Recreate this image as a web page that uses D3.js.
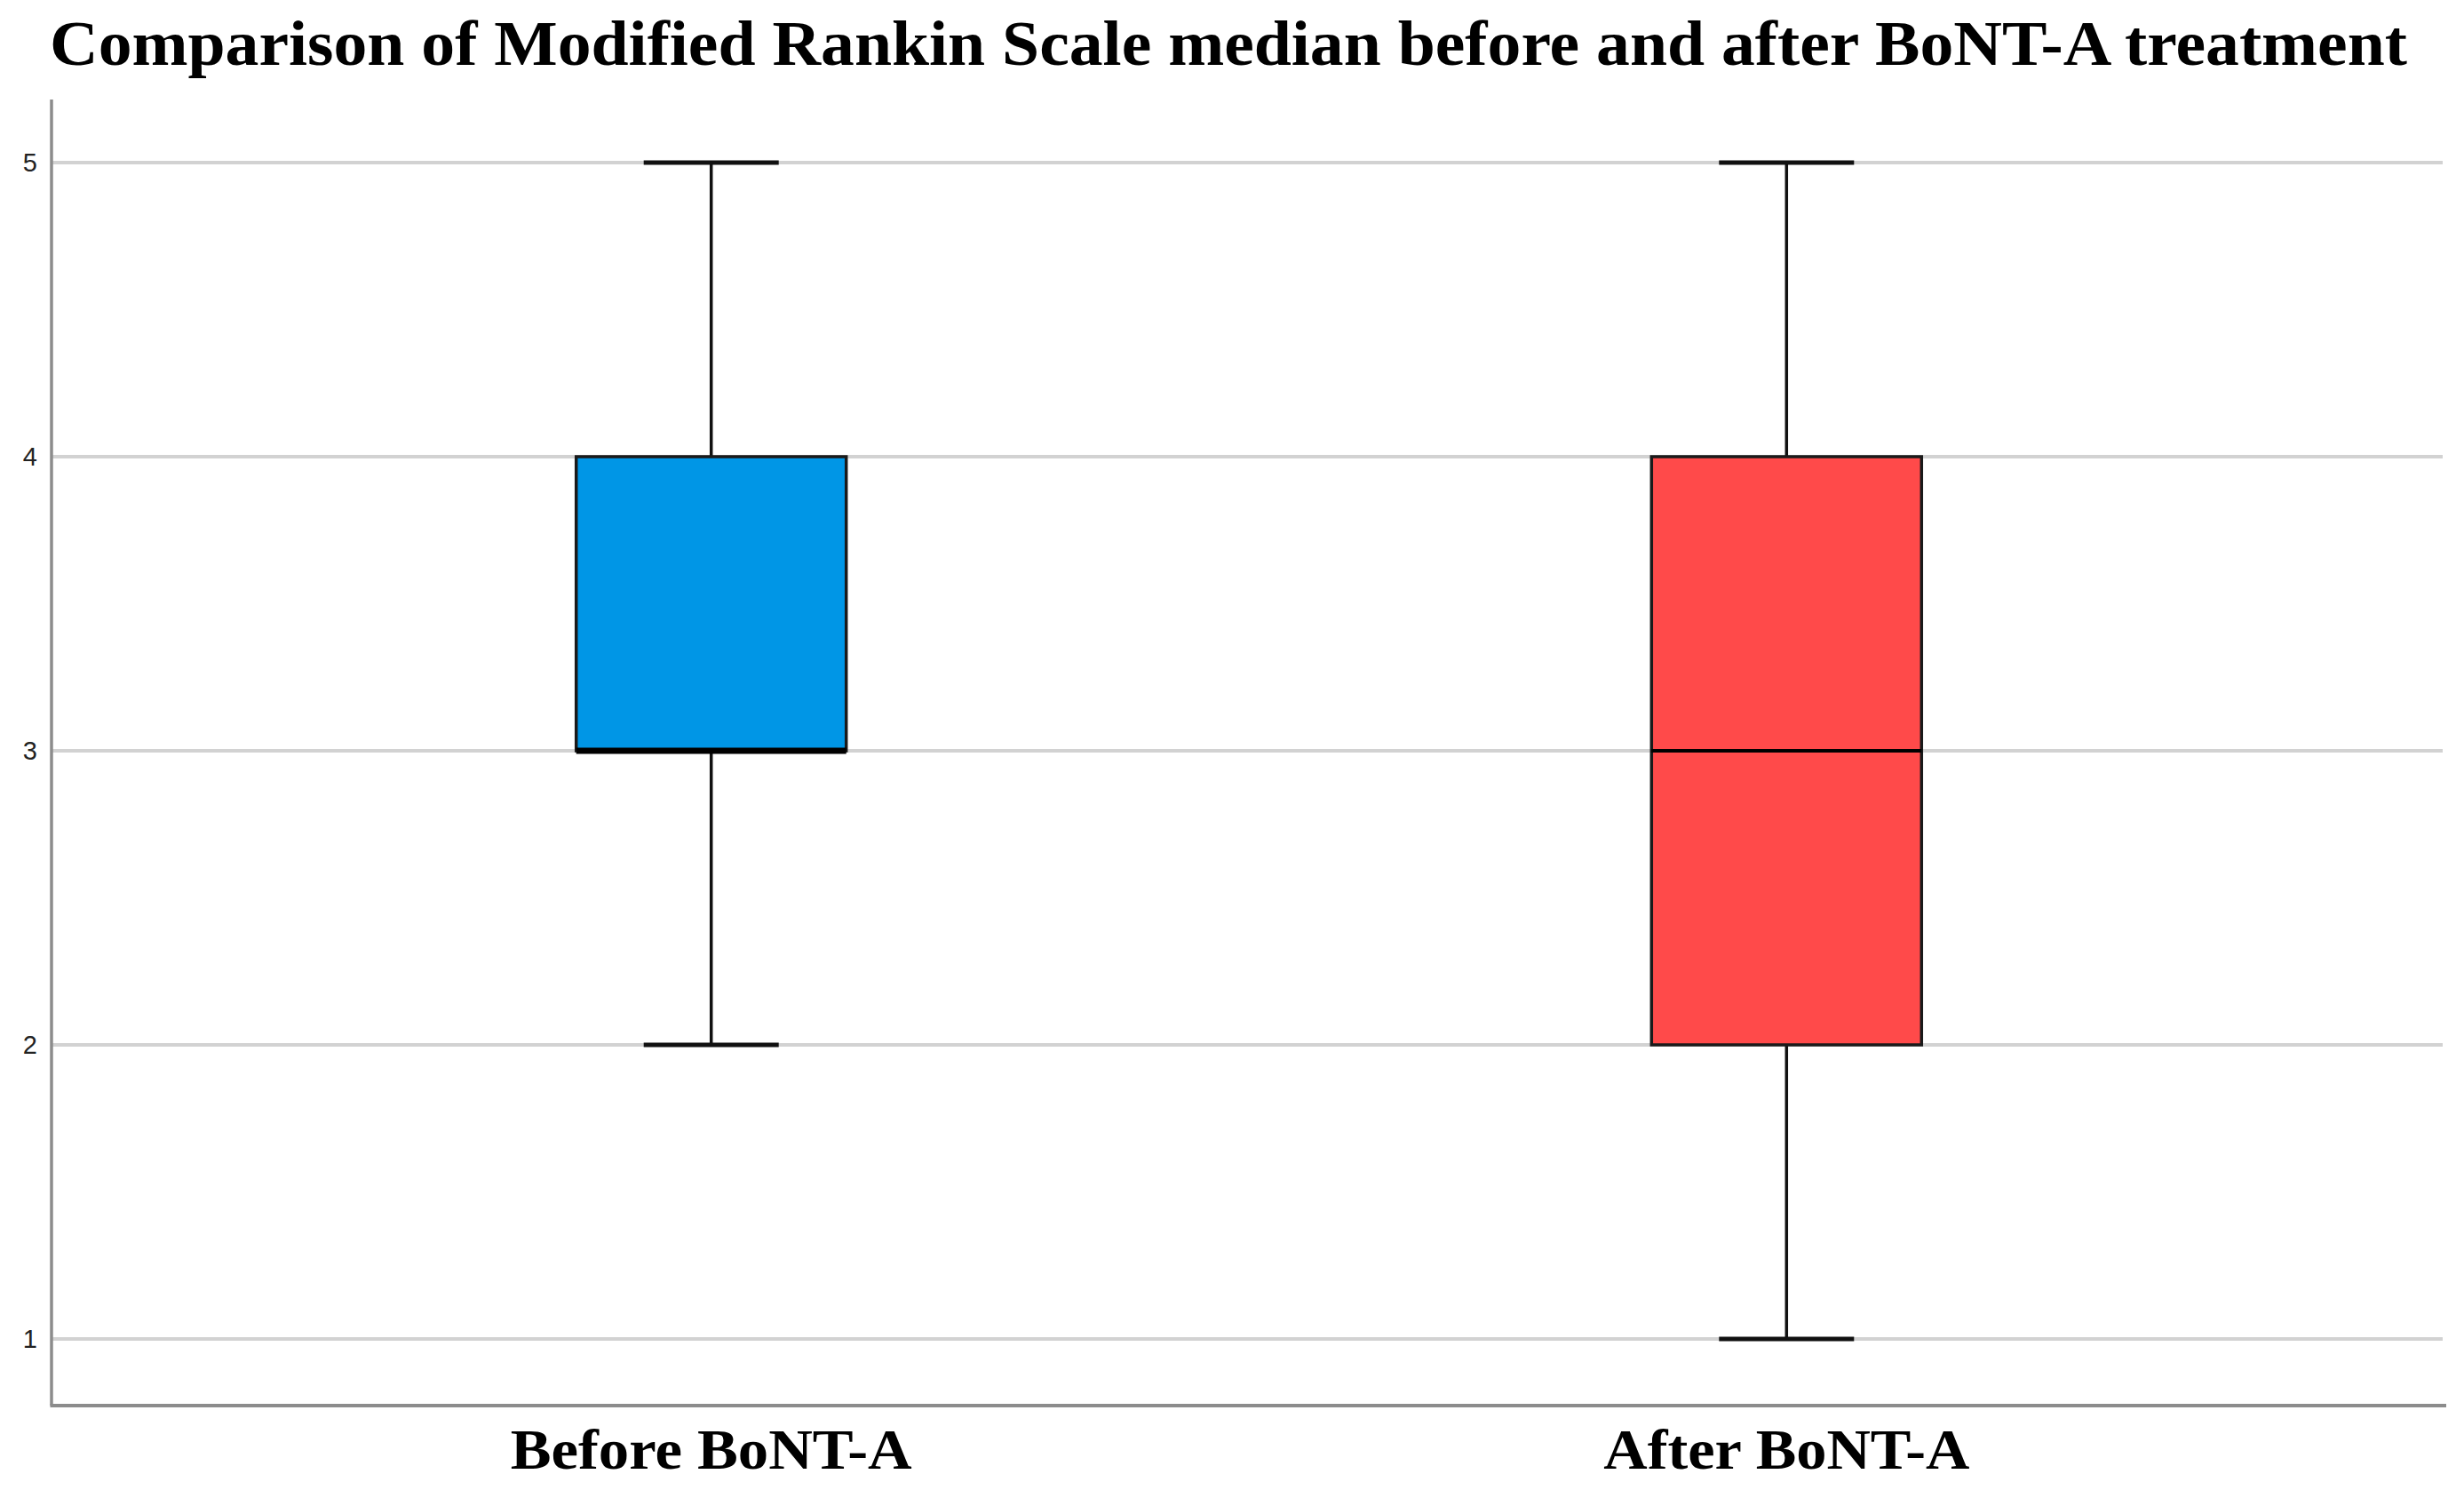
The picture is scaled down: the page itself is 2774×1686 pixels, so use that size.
<!DOCTYPE html>
<html>
<head>
<meta charset="utf-8">
<script src="https://cdn.jsdelivr.net/npm/d3@7"></script>
<style>
  body { margin: 0; background: #fff; }
  svg { display: block; }
</style>
</head>
<body>
<div id="chart"></div>
<script>
// Box plot summaries
const categories = ['Before BoNT-A', 'After BoNT-A']
const whiskerLow = [2, 1]
const q1 = [3, 2]
const median = [3, 3]
const q3 = [4, 4]
const whiskerHigh = [5, 5]
const colors = ['#0096E6', '#FF4A4A']
const yTicks = [1, 2, 3, 4, 5]
const title = 'Comparison of Modified Rankin Scale median before and after BoNT-A treatment'

const width = 2774
const height = 1686
// plot frame
const margin = { left: 58, right: 2754, top: 112, bottom: 1582 }

const svg = d3.select('#chart')
    .append('svg')
    .attr('width', width)
    .attr('height', height)

const x = d3.scalePoint()
    .domain(categories)
    .range([margin.left, margin.right])
    .padding(0.6135)

const y = d3.scaleLinear()
    .domain([1, 5])
    .range([1507, 183])

const boxW = 304
const capW = 152
// label widths measured on the reference (its serif is wider than ours)
const labelW = [452, 412]

// Gridlines
svg.append('g')
    .selectAll('line')
    .data(yTicks)
    .enter()
    .append('line')
    .attr('x1', margin.left)
    .attr('x2', margin.right - 4)
    .attr('y1', d => y(d))
    .attr('y2', d => y(d))
    .attr('stroke', '#d2d2d2')
    .attr('stroke-width', 4)

// Y axis
let yAxis = svg.append('g')
    .attr('transform', `translate(${margin.left},0)`)
    .call(d3.axisLeft(y).tickValues(yTicks).tickSize(0).tickPadding(16).tickFormat(d3.format('d')))
yAxis.select('.domain').remove()
yAxis.selectAll('text')
    .attr('font-family', 'Arial, "Liberation Sans", sans-serif')
    .attr('font-size', 29)
    .attr('fill', '#222')

// axis frame lines
svg.append('line')
    .attr('x1', margin.left).attr('x2', margin.left)
    .attr('y1', margin.top).attr('y2', margin.bottom)
    .attr('stroke', '#8c8c8c').attr('stroke-width', 3.5)
svg.append('line')
    .attr('x1', margin.left - 1.5).attr('x2', margin.right)
    .attr('y1', margin.bottom).attr('y2', margin.bottom)
    .attr('stroke', '#8c8c8c').attr('stroke-width', 4)

// Box plots
const idx = d3.range(categories.length)
const boxes = svg.append('g')
    .selectAll('g')
    .data(idx)
    .enter()
    .append('g')

// whiskers
boxes.append('line')
    .attr('x1', i => x(categories[i])).attr('x2', i => x(categories[i]))
    .attr('y1', i => y(whiskerHigh[i])).attr('y2', i => y(q3[i]))
    .attr('stroke', '#111').attr('stroke-width', 3.5)
boxes.append('line')
    .attr('x1', i => x(categories[i])).attr('x2', i => x(categories[i]))
    .attr('y1', i => y(q1[i])).attr('y2', i => y(whiskerLow[i]))
    .attr('stroke', '#111').attr('stroke-width', 3.5)

// caps
boxes.append('line')
    .attr('x1', i => x(categories[i]) - capW / 2).attr('x2', i => x(categories[i]) + capW / 2)
    .attr('y1', i => y(whiskerHigh[i])).attr('y2', i => y(whiskerHigh[i]))
    .attr('stroke', '#111').attr('stroke-width', 5)
boxes.append('line')
    .attr('x1', i => x(categories[i]) - capW / 2).attr('x2', i => x(categories[i]) + capW / 2)
    .attr('y1', i => y(whiskerLow[i])).attr('y2', i => y(whiskerLow[i]))
    .attr('stroke', '#111').attr('stroke-width', 5)

// box
boxes.append('rect')
    .attr('x', i => x(categories[i]) - boxW / 2)
    .attr('y', i => y(q3[i]))
    .attr('width', boxW)
    .attr('height', i => y(q1[i]) - y(q3[i]))
    .attr('fill', i => colors[i])
    .attr('stroke', '#1a1a1a')
    .attr('stroke-width', 3.5)

// median
boxes.append('line')
    .attr('x1', i => x(categories[i]) - boxW / 2).attr('x2', i => x(categories[i]) + boxW / 2)
    .attr('y1', i => y(median[i])).attr('y2', i => y(median[i]))
    .attr('stroke', '#000')
    .attr('stroke-width', i => median[i] === q1[i] ? 7 : 4)

// Category labels
svg.append('g')
    .selectAll('text')
    .data(categories)
    .enter()
    .append('text')
    .attr('x', d => x(d))
    .attr('y', 1653)
    .attr('text-anchor', 'middle')
    .attr('font-family', '"Liberation Serif", "DejaVu Serif", serif')
    .attr('font-weight', 'bold')
    .attr('font-size', 64)
    .attr('textLength', (d, i) => labelW[i])
    .attr('lengthAdjust', 'spacingAndGlyphs')
    .attr('fill', '#000')
    .text(d => d)

// Title
svg.append('text')
    .attr('x', 56)
    .attr('y', 73)
    .attr('font-family', '"Liberation Serif", "DejaVu Serif", serif')
    .attr('font-weight', 'bold')
    .attr('font-size', 71)
    .attr('textLength', 2654)
    .attr('lengthAdjust', 'spacingAndGlyphs')
    .attr('fill', '#000')
    .text(title)
</script>
</body>
</html>
